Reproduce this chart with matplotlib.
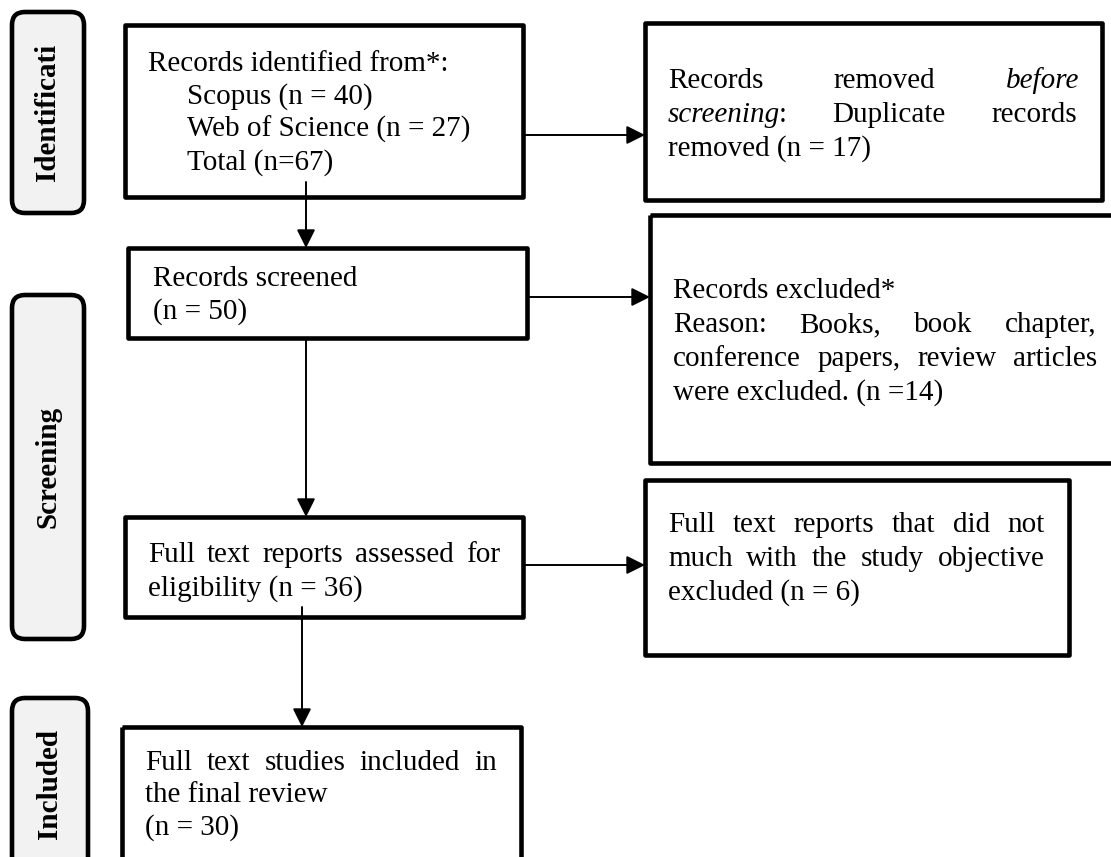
import matplotlib
matplotlib.use('Agg')
import matplotlib.pyplot as plt
from matplotlib.patches import Rectangle, FancyBboxPatch

# ---------------- data ----------------
stages = ['Identificati', 'Screening', 'Included']
sources = ['Scopus', 'Web of Science']
source_n = [40, 27]
total_n = 67
duplicates_n = 17
screened_n = 50
excluded_n = 14
assessed_n = 36
not_match_n = 6
included_n = 30

FONT = 'Liberation Serif'
FS = 21
LW_BOX = 3.3

fig = plt.figure(figsize=(11.11, 8.57), dpi=100)
ax = fig.add_axes([0, 0, 1, 1])
ax.set_xlim(0, 1111)
ax.set_ylim(857, 0)
ax.axis('off')
renderer = fig.canvas.get_renderer()


def width_of(text, style='normal'):
    t = ax.text(0, 0, text, fontsize=FS, family=FONT, style=style)
    w = t.get_window_extent(renderer).width
    t.remove()
    return w


def put(x, y, text, style='normal'):
    ax.text(x, y, text, fontsize=FS, family=FONT, style=style,
            ha='left', va='baseline', color='black')


def line(x0, y, words, x1=None):
    """words: list of words, each word is a list of (text, style) segments.
    If x1 given, line is justified between x0 and x1."""
    widths = []
    for w in words:
        widths.append(sum(width_of(s, st) for s, st in w) - (len(w) - 1) * 1.5)
    if x1 is not None and len(words) > 1:
        gap = (x1 - x0 - sum(widths)) / (len(words) - 1)
    else:
        gap = width_of('a b') - width_of('a') - width_of('b')
    x = x0
    for w, wd in zip(words, widths):
        xx = x
        for s, st in w:
            put(xx, y, s, st)
            xx += width_of(s, st) - 1.5
        x += wd + gap


def W(text):
    return [[(t, 'normal')] for t in text.split()]


def box(x0, y0, x1, y1):
    ax.add_patch(Rectangle((x0, y0), x1 - x0, y1 - y0, fill=False,
                           lw=LW_BOX, ec='black', joinstyle='round'))


def side(x0, y0, x1, y1, label):
    ax.add_patch(FancyBboxPatch((x0, y0), x1 - x0, y1 - y0,
                                boxstyle='round,pad=0,rounding_size=13',
                                fc='#f2f2f2', ec='black', lw=LW_BOX))
    ax.text((x0 + x1) / 2, (y0 + y1) / 2, label, rotation=90,
            fontsize=FS, family=FONT, weight='bold',
            ha='center', va='center', color='black')


def arrow(x0, y0, x1, y1):
    ax.annotate('', xy=(x1, y1), xytext=(x0, y0),
                arrowprops=dict(arrowstyle='-|>', lw=1.4, color='black',
                                mutation_scale=28, shrinkA=0, shrinkB=0))


# ---------------- side labels ----------------
side(12, 12, 84, 213, stages[0])
side(12, 295, 84, 639, stages[1])
side(12, 698, 88, 870, stages[2])

# ---------------- boxes ----------------
box(125, 25, 523, 197)
box(645, 23, 1102, 200)
box(128, 248, 527, 338)
box(650, 215, 1130, 463)
box(125, 517, 523, 617)
box(645, 480, 1069, 655)
box(122, 727, 521, 880)

# ---------------- arrows ----------------
arrow(306, 182, 306, 248)
arrow(523, 135, 645, 135)
arrow(527, 297, 650, 297)
arrow(306, 338, 306, 517)
arrow(523, 565, 645, 565)
arrow(302, 607, 302, 727)

# ---------------- texts ----------------
# Box 1: identification
put(148, 71, 'Records identified from*:')
put(187, 104, f'{sources[0]} (n = {source_n[0]})')
put(187, 137, f'{sources[1]} (n = {source_n[1]})')
put(187, 170, f'Total (n={total_n})')

# Box 2: removed before screening
line(668, 88, [[('Records', 'normal')], [('removed', 'normal')],
               [('before', 'italic')]], 1079)
line(668, 122, [[('screening', 'italic'), (':', 'normal')],
                [('Duplicate', 'normal')], [('records', 'normal')]], 1077)
put(668, 156, f'removed (n = {duplicates_n})')

# Records screened
put(153, 286, 'Records screened')
put(153, 319, f'(n = {screened_n})')

# Box 3: records excluded
put(673, 298, 'Records excluded*')
line(673, 332, W('Reason: Books, book chapter,'), 1097)
line(673, 366, W('conference papers, review articles'), 1097)
put(673, 400, f'were excluded. (n ={excluded_n})')

# Full text assessed
line(148, 562, W('Full text reports assessed for'), 500)
put(148, 596, f'eligibility (n = {assessed_n})')

# Box 4: full text excluded
line(668, 532, W('Full text reports that did not'), 1045)
line(668, 566, W('much with the study objective'), 1045)
put(668, 600, f'excluded (n = {not_match_n})')

# Included
line(145, 770, W('Full text studies included in'), 497)
put(145, 802, 'the final review')
put(145, 835, f'(n = {included_n})')

fig.savefig('out.png', dpi=100, facecolor='white')
